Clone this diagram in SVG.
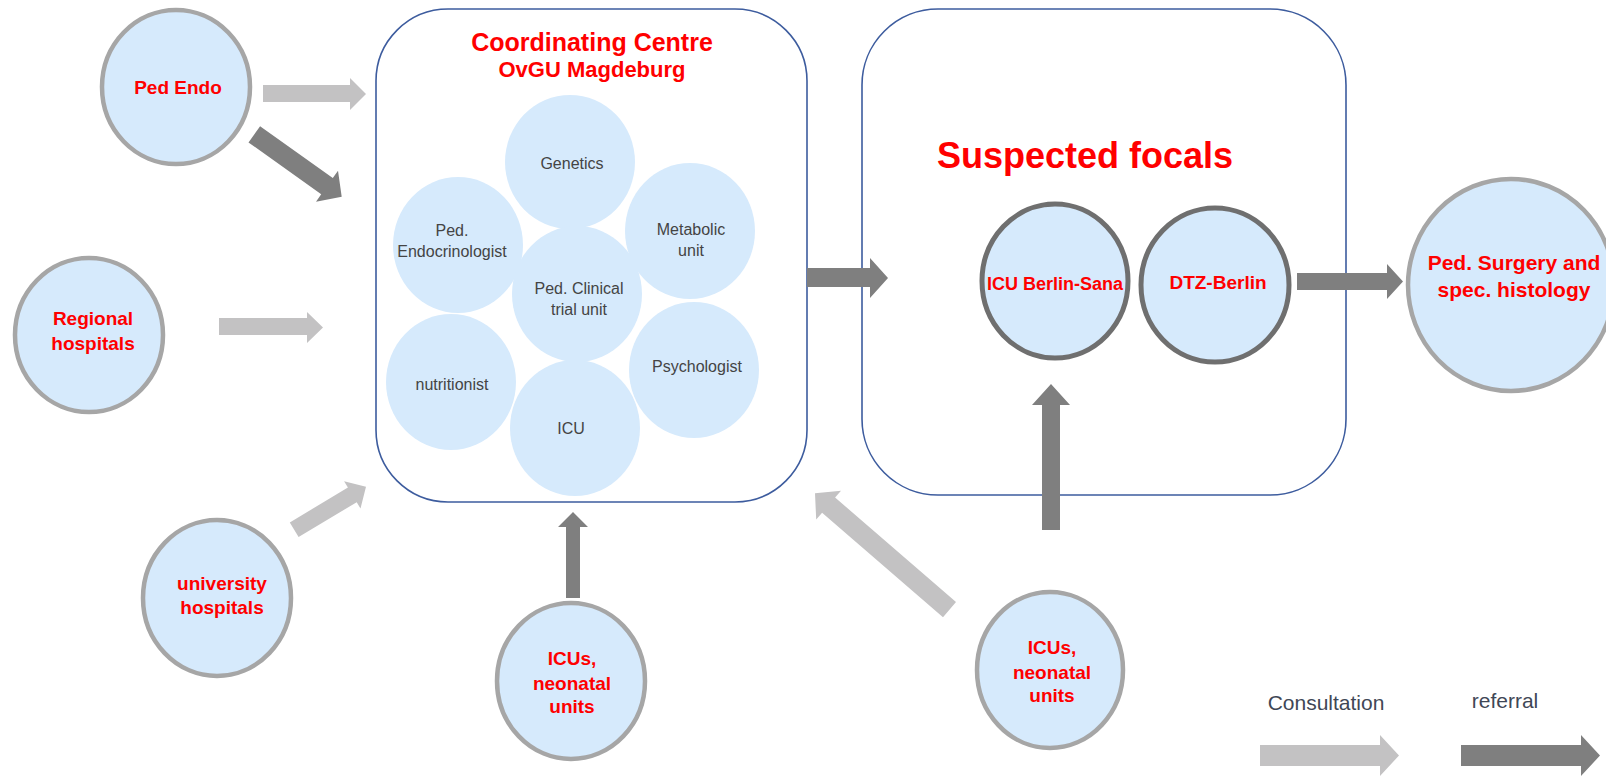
<svg xmlns="http://www.w3.org/2000/svg" width="1606" height="778" viewBox="0 0 1606 778">
<style>
.node{fill:#d6eafc;stroke:#a6a6a6;stroke-width:4.5}
.nodeD{fill:#d6eafc;stroke:#6f6f6f;stroke-width:5}
.inner{fill:#d6eafc;stroke:none}
.box{fill:#ffffff;stroke:#3d5c9e;stroke-width:1.6}
.red{font-family:"Liberation Sans",Arial,sans-serif;font-weight:bold;fill:#ff0000;text-anchor:middle}
.gray{font-family:"Liberation Sans",Arial,sans-serif;fill:#444444;font-size:16px;text-anchor:middle}
.leg{font-family:"Liberation Sans",Arial,sans-serif;fill:#3f4756;font-size:21px;text-anchor:middle}
.cons{fill:#c3c2c3}
.ref{fill:#7f7f7f}
</style>
<rect width="1606" height="778" fill="#ffffff"/>

<g id="coordinating-centre">
<rect class="box" x="376" y="9" width="431" height="493" rx="72" ry="72"/>
<text class="red" x="592" y="51" font-size="25">Coordinating Centre</text>
<text class="red" x="592" y="77" font-size="22">OvGU Magdeburg</text>
</g>
<g id="genetics"><ellipse class="inner" cx="570" cy="162" rx="65" ry="67"/><text class="gray" x="572" y="168.5">Genetics</text></g>
<g id="ped-endocrinologist"><ellipse class="inner" cx="458" cy="245" rx="65" ry="68"/><text class="gray" x="452" y="235.5">Ped.</text><text class="gray" x="452" y="256.5">Endocrinologist</text></g>
<g id="metabolic-unit"><ellipse class="inner" cx="690" cy="231" rx="65" ry="68"/><text class="gray" x="691" y="234.5">Metabolic</text><text class="gray" x="691" y="255.5">unit</text></g>
<g id="nutritionist"><ellipse class="inner" cx="451" cy="382" rx="65" ry="68"/><text class="gray" x="452" y="389.5">nutritionist</text></g>
<g id="psychologist"><ellipse class="inner" cx="694" cy="370" rx="65" ry="68"/><text class="gray" x="697" y="371.5">Psychologist</text></g>
<g id="icu"><ellipse class="inner" cx="575" cy="428" rx="65" ry="68"/><text class="gray" x="571" y="433.5">ICU</text></g>
<g id="ped-clinical-trial-unit"><ellipse class="inner" cx="577" cy="294" rx="65" ry="68"/><text class="gray" x="579" y="293.5">Ped. Clinical</text><text class="gray" x="579" y="314.5">trial unit</text></g>

<g id="suspected-focals">
<rect class="box" x="862" y="9" width="484" height="486" rx="76" ry="76"/>
<text class="red" x="1085" y="168" font-size="36">Suspected focals</text>
</g>
<g id="icu-berlin-sana"><ellipse class="nodeD" cx="1055" cy="281" rx="73" ry="77"/><text class="red" x="1055" y="289.5" font-size="18">ICU Berlin-Sana</text></g>
<g id="dtz-berlin"><ellipse class="nodeD" cx="1215" cy="285" rx="74" ry="77"/><text class="red" x="1218" y="288.5" font-size="19">DTZ-Berlin</text></g>

<g id="ped-endo"><ellipse class="node" cx="176" cy="87" rx="74" ry="77"/><text class="red" x="178" y="94" font-size="19">Ped Endo</text></g>
<g id="regional-hospitals"><ellipse class="node" cx="89" cy="335" rx="74" ry="77"/><text class="red" x="93" y="325" font-size="19">Regional</text><text class="red" x="93" y="350" font-size="19">hospitals</text></g>
<g id="university-hospitals"><ellipse class="node" cx="217" cy="598" rx="74" ry="78"/><text class="red" x="222" y="590" font-size="19">university</text><text class="red" x="222" y="614" font-size="19">hospitals</text></g>
<g id="icus-neonatal-1"><ellipse class="node" cx="571" cy="681" rx="74" ry="78"/><text class="red" x="572" y="665" font-size="19">ICUs,</text><text class="red" x="572" y="690" font-size="19">neonatal</text><text class="red" x="572" y="713" font-size="19">units</text></g>
<g id="icus-neonatal-2"><ellipse class="node" cx="1050" cy="670" rx="73" ry="78"/><text class="red" x="1052" y="654" font-size="19">ICUs,</text><text class="red" x="1052" y="679" font-size="19">neonatal</text><text class="red" x="1052" y="702" font-size="19">units</text></g>
<g id="ped-surgery"><ellipse class="node" cx="1511" cy="285" rx="103" ry="106"/><text class="red" x="1514" y="270" font-size="21">Ped. Surgery and</text><text class="red" x="1514" y="297" font-size="21">spec. histology</text></g>

<g id="connectors">
<polygon class="cons" points="263,85 350,85 350,78 366,94 350,110 350,102 263,102"/>
<polygon class="ref" points="260.1,126.2 332.8,178.1 338.0,170.7 341.7,196.7 316.0,201.7 321.2,194.3 248.5,142.4"/>
<polygon class="cons" points="219,318 307,318 307,312 323,327.5 307,343 307,335 219,335"/>
<polygon class="cons" points="289.8,522.4 347.9,487.6 344.1,481.2 366,486.7 360.5,508.6 356.7,502.2 298.6,537.0"/>
<polygon class="ref" points="566,598 566,527 558,527 573,512 588,527 580,527 580,598"/>
<polygon class="cons" points="956.0,602.1 835.1,497.5 841.0,490.7 815,493.3 816.2,519.5 822.1,512.7 943.0,617.3"/>
<polygon class="ref" points="807,268 870,268 870,258 888,278 870,298 870,287 807,287"/>
<polygon class="ref" points="1042,530 1042,405 1032,405 1051,384 1070,405 1060,405 1060,530"/>
<polygon class="ref" points="1297,273 1387,273 1387,264 1403,281.5 1387,299 1387,290 1297,290"/>
</g>

<g id="legend">
<text class="leg" x="1326" y="710">Consultation</text>
<text class="leg" x="1505" y="708">referral</text>
<polygon class="cons" points="1260,745 1380,745 1380,735 1399,755.5 1380,776 1380,766 1260,766"/>
<polygon class="ref" points="1461,745 1581,745 1581,735 1600,755.5 1581,776 1581,766 1461,766"/>
</g>
</svg>
